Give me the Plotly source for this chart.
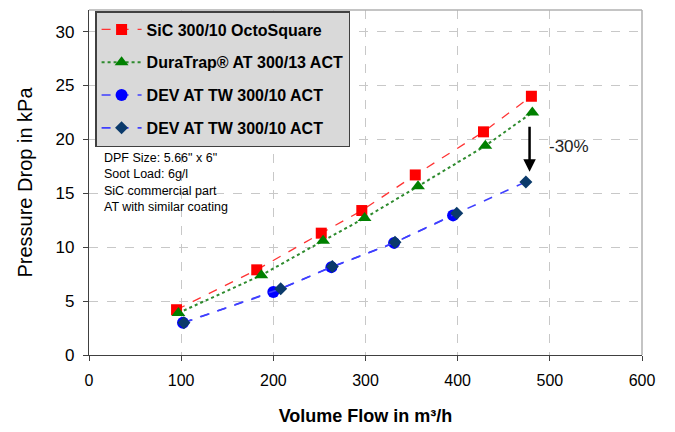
import plotly.graph_objects as go

# Data
sic_x = [95, 182, 252, 296, 354, 428, 480]
sic_y = [4.2, 7.9, 11.3, 13.4, 16.7, 20.7, 24.0]
dura_x = [97, 187, 254, 299, 357, 430, 481]
dura_y = [3.9, 7.4, 10.6, 12.7, 15.65, 19.4, 22.5]
dev1_x = [102, 200, 263, 331, 395]
dev1_y = [3.0, 5.85, 8.15, 10.4, 12.95]
dev2_x = [103, 208, 264, 332, 399, 474]
dev2_y = [3.0, 6.15, 8.2, 10.45, 13.15, 16.05]

names = ["SiC 300/10 OctoSquare", "DuraTrap® AT 300/13 ACT",
         "DEV AT TW 300/10 ACT", "DEV AT TW 300/10 ACT"]
note_lines = ["DPF Size: 5.66\" x 6\"", "Soot Load: 6g/l",
              "SiC commercial part", "AT with similar coating"]
x_ticks = [0, 100, 200, 300, 400, 500, 600]
y_ticks = [0, 5, 10, 15, 20, 25, 30]

fig = go.Figure()
fig.add_trace(go.Scatter(x=sic_x, y=sic_y, name="<b>" + names[0] + "</b>", mode="lines+markers",
                         legendgroup="a",
                         line=dict(color="#ff3333", width=1.3, dash="dash"),
                         marker=dict(symbol="square", size=11, color="#ff0000")))
fig.add_trace(go.Scatter(x=dura_x, y=dura_y, name="<b>" + names[1] + "</b>", mode="lines+markers",
                         legendgroup="b",
                         line=dict(color="#2e8b2e", width=2, dash="dot"),
                         marker=dict(symbol="triangle-up", size=12, color="#008000")))
fig.add_trace(go.Scatter(x=dev1_x, y=dev1_y, name="<b>" + names[2] + "</b>", mode="lines+markers",
                         legendgroup="c",
                         line=dict(color="#3f3fff", width=1.6, dash="dash"),
                         marker=dict(symbol="circle", size=12, color="#0000ff")))
fig.add_trace(go.Scatter(x=dev2_x, y=dev2_y, name="<b>" + names[3] + "</b>", mode="lines+markers",
                         legendgroup="d",
                         line=dict(color="#3f3fff", width=1.6, dash="dash"),
                         marker=dict(symbol="diamond", size=10, color="#0b3a6b")))

font_family = "Liberation Sans, Arial, sans-serif"

# the page body adds an 8px offset; compensate
fig.update_layout(
    width=667, height=424,
    margin=dict(l=81, r=33, t=2, b=77),
    paper_bgcolor="white", plot_bgcolor="white",
    font=dict(family=font_family, color="black"),
    showlegend=True,
    legend=dict(x=0.011, y=0.997, xanchor="left", yanchor="top",
                bgcolor="#d9d9d9", bordercolor="#404040", borderwidth=1.5,
                font=dict(size=16, color="black", family=font_family),
                traceorder="grouped", tracegroupgap=9,
                itemwidth=40),
    xaxis=dict(range=[0, 600], tickvals=x_ticks, ticks="outside", ticklen=5,
               tickcolor="#404040", automargin=False, ticklabelstandoff=6,
               showline=True, linecolor="#404040", linewidth=1.2,
               showgrid=True, gridcolor="#c8c8c8", griddash="dash", gridwidth=1,
               zeroline=False, tickfont=dict(size=16),
               title=dict(text="<b>Volume Flow in m³/h</b>", font=dict(size=18),
                          standoff=21)),
    yaxis=dict(range=[0, 32], tickvals=y_ticks, ticks="outside", ticklen=5,
               tickcolor="#404040", automargin=False, ticklabelstandoff=5,
               showline=True, linecolor="#404040", linewidth=1.2,
               showgrid=True, gridcolor="#c8c8c8", griddash="dash", gridwidth=1,
               zeroline=False, tickfont=dict(size=17),
               title=dict(text="Pressure Drop in kPa", font=dict(size=20),
                          standoff=17)),
)

# light gray top/right frame
fig.add_shape(type="line", xref="paper", yref="paper", x0=0, x1=1, y0=1, y1=1,
              line=dict(color="#b0b0b0", width=1.5))
fig.add_shape(type="line", xref="paper", yref="paper", x0=1, x1=1, y0=0, y1=1,
              line=dict(color="#b0b0b0", width=1.5))

# note text
fig.add_annotation(xref="x", yref="y", x=14, y=19.1, xanchor="left", yanchor="top",
                   text="<br>".join(note_lines), showarrow=False, align="left",
                   font=dict(size=12.5, color="black"))

# arrow and -30%
fig.add_annotation(xref="x", yref="y", x=478, y=17.0, ax=478, ay=21.3,
                   axref="x", ayref="y", text="", showarrow=True,
                   arrowhead=2, arrowsize=1, arrowwidth=2.5, arrowcolor="black")
fig.add_annotation(xref="x", yref="y", x=497, y=19.3, xanchor="left",
                   text="-30%", showarrow=False, font=dict(size=17, color="#222222"))

fig.write_html("out.html")
